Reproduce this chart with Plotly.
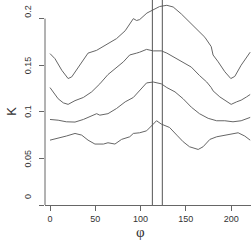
import plotly.graph_objects as go

phi1 = [0, 5.5, 13, 20, 24, 33, 42, 51.5, 55, 64, 73.5, 83, 88, 92, 95.6, 99, 107, 112.5, 121, 129, 136, 145, 154, 163.6, 171, 178, 180, 185.7, 193, 199.6, 204, 211, 221]
k1 = [0.1625, 0.157, 0.1446, 0.1357, 0.1375, 0.15, 0.163, 0.166, 0.168, 0.174, 0.1786, 0.187, 0.194, 0.2, 0.198, 0.199, 0.206, 0.209, 0.213, 0.2143, 0.2125, 0.205, 0.196, 0.1875, 0.18, 0.17, 0.161, 0.1536, 0.143, 0.1357, 0.138, 0.15, 0.164]

phi2 = [0, 3.7, 9, 14.7, 20, 27.6, 36.8, 46, 55, 64, 73.5, 81, 88, 92, 95.6, 99, 106.6, 114, 123, 129, 138, 147, 156, 165, 173, 178, 180, 187.5, 195, 200, 206, 211, 217, 221]
k2 = [0.126, 0.1214, 0.114, 0.1096, 0.108, 0.112, 0.1154, 0.1214, 0.13, 0.14, 0.148, 0.1536, 0.161, 0.1625, 0.163, 0.164, 0.167, 0.1654, 0.1654, 0.163, 0.158, 0.1536, 0.148, 0.139, 0.132, 0.126, 0.1225, 0.116, 0.1107, 0.108, 0.1107, 0.1125, 0.116, 0.1186]

phi3 = [0, 9, 18, 27.6, 36.8, 46, 51.5, 55, 64, 73.5, 83, 92, 99, 106.6, 114, 123, 129, 138, 147, 156, 165, 174.6, 184, 193, 202, 211, 221]
k3 = [0.0918, 0.091, 0.0893, 0.089, 0.0918, 0.0954, 0.098, 0.0964, 0.098, 0.1036, 0.1107, 0.1154, 0.123, 0.131, 0.132, 0.13, 0.126, 0.1214, 0.114, 0.105, 0.098, 0.093, 0.0904, 0.0904, 0.0893, 0.0904, 0.094]

phi4 = [0, 9, 18, 27.6, 35, 42, 49.6, 59, 64, 71.7, 79, 88, 92, 99, 106.6, 114, 117.6, 123, 132, 140, 147, 154, 163.6, 169, 176.5, 184, 195, 202, 207.7, 215, 221]
k4 = [0.0696, 0.0714, 0.074, 0.0768, 0.075, 0.0696, 0.0654, 0.0654, 0.0668, 0.0654, 0.0704, 0.0732, 0.0768, 0.0775, 0.0796, 0.0868, 0.0904, 0.0868, 0.0832, 0.075, 0.0679, 0.0625, 0.0596, 0.0625, 0.0704, 0.0732, 0.075, 0.0768, 0.0775, 0.074, 0.0696]

vlines = [113, 124]
xticks = [0, 50, 100, 150, 200]
yticks = [0, 0.05, 0.1, 0.15, 0.2]
ytick_text = ["0", "0.05", "0.1", "0.15", "0.2"]
# label offsets (pixels) as in the reference rendering
ytick_shift = [8, 0, 0, 0, 7]

line_col = "#666666"
font = "Liberation Sans, Arial, sans-serif"
txt_col = "#333333"

fig = go.Figure()
for px_, k in [(phi1, k1), (phi2, k2), (phi3, k3), (phi4, k4)]:
    fig.add_trace(go.Scatter(x=px_, y=k, mode="lines",
                             line=dict(color=line_col, width=1), showlegend=False,
                             hoverinfo="skip"))

for v in vlines:
    fig.add_shape(type="line", x0=v, x1=v, y0=0, y1=0.25, yref="y", xref="x",
                  line=dict(color="#555555", width=1))

# R-style y axis line spanning first to last tick
fig.add_shape(type="line", xref="paper", x0=0, x1=0, yref="y", y0=0, y1=0.2,
              line=dict(color="#666666", width=1))

for v, t, s in zip(yticks, ytick_text, ytick_shift):
    fig.add_annotation(text=t, xref="paper", x=0, xanchor="center", xshift=-17,
                       yref="y", y=v, yanchor="middle", yshift=s, textangle=-90,
                       showarrow=False, font=dict(size=9, family=font, color=txt_col))

fig.add_annotation(text="φ", xref="x", x=100, yref="paper", y=-0.085, yanchor="top",
                   showarrow=False,
                   font=dict(size=15, family="Liberation Serif, DejaVu Serif, serif", color=txt_col))
fig.add_annotation(text="K", xref="paper", x=-0.16, xanchor="center", yref="y", y=0.1,
                   textangle=-90, showarrow=False, font=dict(size=13, family=font, color=txt_col))

fig.update_layout(
    width=251, height=245,
    margin=dict(l=45, r=0, t=0, b=40),
    paper_bgcolor="white", plot_bgcolor="white",
    font=dict(family=font, color=txt_col, size=9),
    xaxis=dict(range=[-5.52, 221.9], tickvals=xticks, ticks="outside", ticklen=5,
               tickcolor="#666666", showline=True, linecolor="#666666", linewidth=1,
               showgrid=False, zeroline=False, automargin=False),
    yaxis=dict(range=[0, 0.22], tickvals=yticks, showticklabels=False, ticks="outside",
               ticklen=5, tickcolor="#666666", showline=False,
               showgrid=False, zeroline=False, automargin=False),
)
fig.write_html("out.html", config={"displayModeBar": False},
               post_script="document.body.style.margin='0';document.body.style.overflow='hidden';")
